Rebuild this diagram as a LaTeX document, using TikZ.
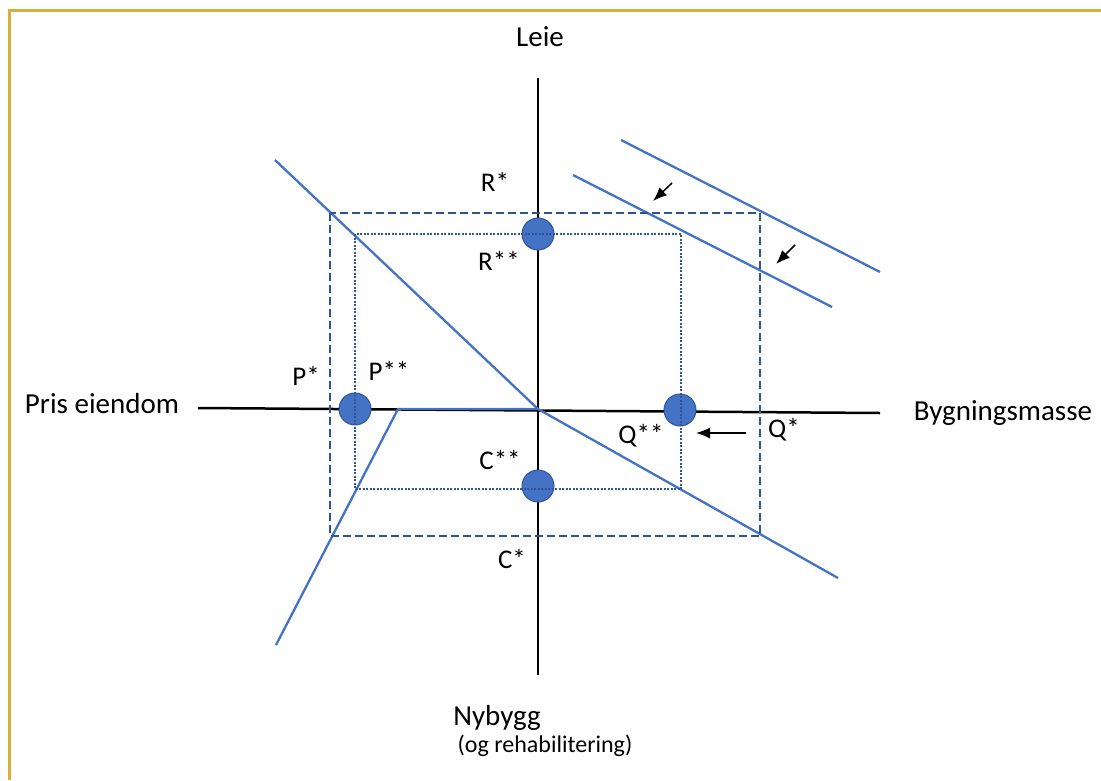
\documentclass[tikz,border=0pt]{standalone}
\usepackage{fontspec}
\setmainfont{Carlito}
\usetikzlibrary{arrows.meta}

\definecolor{ramme}{RGB}{218,174,56}
\definecolor{linjeblaa}{RGB}{68,114,196}
\definecolor{morkblaa}{RGB}{47,85,151}

\tikzset{
  akse/.style={line width=2.5pt,black},
  kurve/.style={line width=2.3pt,linjeblaa},
  likevekt/.style={line width=2.2pt,morkblaa,dash pattern=on 8pt off 4pt},
  nylikevekt/.style={line width=2pt,morkblaa,dash pattern=on 2pt off 1.5pt},
  punkt/.style={circle,fill=linjeblaa,draw=morkblaa,line width=1pt,minimum size=32pt,inner sep=0pt},
  tekst/.style={font=\fontsize{29}{34}\selectfont,anchor=base},
  liten/.style={font=\fontsize{24}{28}\selectfont,anchor=base},
  merke/.style={font=\fontsize{27}{32}\selectfont,anchor=base},
  pil/.style={-{Latex[length=14pt,width=11pt]},line width=1.5pt}
}

\begin{document}
\begin{tikzpicture}[x=1pt,y=-1pt]
\useasboundingbox (0,0) rectangle (1101,780);

% ramme
\draw[ramme,line width=3pt] (9.5,780) -- (9.5,10) -- (1101,10);

% akser
\coordinate (O) at (538,409);
\coordinate (venstre) at (198,408);
\coordinate (hoyre) at (880,413);
\coordinate (topp) at (538,78);
\coordinate (bunn) at (538,675);

\draw[akse] (venstre) -- (hoyre);
\draw[akse] (topp) -- (bunn);

% kurver
\coordinate (leieA) at (275,160);
\coordinate (leieB) at (838,578);
\draw[kurve] (leieA) -- (O) -- (leieB);

\coordinate (knekk) at (398,409);
\coordinate (byggA) at (276,645);
\draw[kurve] (O) -- (knekk) -- (byggA);

\coordinate (etterA) at (621,140);
\coordinate (etterB) at (880,272);
\draw[kurve] (etterA) -- (etterB);

\coordinate (forA) at (573,175);
\coordinate (forB) at (832,307);
\draw[kurve] (forA) -- (forB);

% likevekter
\draw[likevekt] (330,213) rectangle (760,536);

\node[punkt] (Rss) at (538,234) {};
\node[punkt] (Pss) at (355,409) {};
\node[punkt] (Qss) at (680,410) {};
\node[punkt] (Css) at (538,486) {};

\draw[nylikevekt] (355,234) rectangle (681,489);

% piler
\coordinate (p1s) at (672,183);
\coordinate (p1e) at (653,201);
\draw[pil] (p1s) -- (p1e);

\coordinate (p2s) at (795,245);
\coordinate (p2e) at (776,264);
\draw[pil] (p2s) -- (p2e);

\coordinate (p3s) at (746,433);
\coordinate (p3e) at (696,433);
\draw[pil] (p3s) -- (p3e);

% tekster
\node[tekst] (leie) at (540,46) {Leie};
\node[tekst] (pris) at (102,413) {Pris eiendom};
\node[tekst] (masse) at (1003,420) {Bygningsmasse};
\node[tekst] (nybygg) at (497,725) {Nybygg};
\node[liten] (rehab) at (545,752) {(og rehabilitering)};

\node[merke] (Rs) at (495,191) {R*};
\node[merke] (Rsslab) at (499,270) {R**};
\node[merke] (Ps) at (306,385) {P*};
\node[merke] (Psslab) at (389,380) {P**};
\node[merke] (Qsslab) at (641,443) {Q**};
\node[merke] (Qs) at (784,437) {Q*};
\node[merke] (Csslab) at (500,469) {C**};
\node[merke] (Cs) at (512,568) {C*};

\end{tikzpicture}
\end{document}
